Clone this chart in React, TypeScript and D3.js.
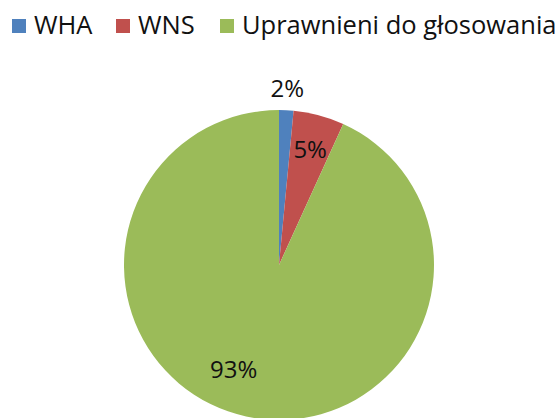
import React from 'react';
import * as d3 from 'd3';

const categories = ['WHA', 'WNS', 'Uprawnieni do głosowania'];
const values = [1.5, 5.3, 93.2];
const labels = ['2%', '5%', '93%'];
const colors = ['#4F81BD', '#C0504D', '#9BBB59'];

const W = 558;
const H = 418;
const cx = 279;
const cy = 265;
const r = 155;
const font = '"Open Sans", "Liberation Sans", sans-serif';

export default function App() {
  const pie = d3.pie<number>().sort(null).value((d) => d);
  const arcs = pie(values);
  const arc = d3.arc<d3.PieArcDatum<number>>().innerRadius(0).outerRadius(r);

  // label placement (radius, angle shift in rad) mimicking Excel best fit
  const labelPlace = [
    { lr: r + 23, shift: 0 },
    { lr: r * 0.78, shift: 0 },
    { lr: 113, shift: 0.2 },
  ];

  const legendX = [12, 116, 220];

  return (
    <svg
      width={W}
      height={H}
      style={{ position: 'absolute', left: 0, top: 0, background: '#fff' }}
      fontFamily={font}
    >
      {categories.map((c, i) => (
        <g key={c} transform={`translate(${legendX[i]},19)`}>
          <rect width={14} height={14} fill={colors[i]} />
          <text x={22} y={15} fontSize={25.5} fill="#111">
            {c}
          </text>
        </g>
      ))}

      <g transform={`translate(${cx},${cy})`}>
        {arcs.map((a, i) => (
          <path key={i} d={arc(a) ?? ''} fill={colors[i]} />
        ))}
        {arcs.map((a, i) => {
          const p = labelPlace[i];
          const mid = (a.startAngle + a.endAngle) / 2 + p.shift;
          const x = Math.sin(mid) * p.lr;
          const y = -Math.cos(mid) * p.lr;
          return (
            <text
              key={'l' + i}
              x={x}
              y={y}
              textAnchor="middle"
              dominantBaseline="central"
              fontSize={24}
              fill="#111"
            >
              {labels[i]}
            </text>
          );
        })}
      </g>
    </svg>
  );
}
